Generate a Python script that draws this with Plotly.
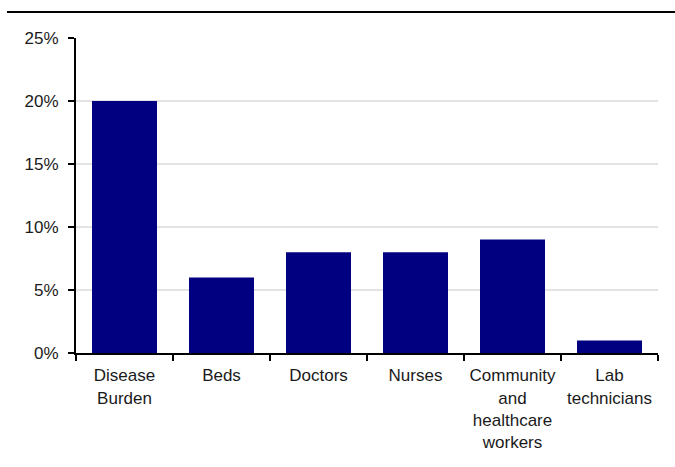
import plotly.graph_objects as go

categories = ["Disease<br>Burden", "Beds", "Doctors", "Nurses",
              "Community<br>and<br>healthcare<br>workers", "Lab<br>technicians"]
values = [0.20, 0.06, 0.08, 0.08, 0.09, 0.01]
y_ticks = [0, 0.05, 0.10, 0.15, 0.20, 0.25]
y_tick_labels = ["0%", "5%", "10%", "15%", "20%", "25%"]

fig = go.Figure(go.Bar(x=categories, y=values, marker=dict(color="#000080", line=dict(width=0))))

W, H = 675, 467
L, R, T, B = 76, 17, 38, 114
pw, ph = W - L - R, H - T - B

fig.update_layout(
    width=W, height=H,
    margin=dict(l=L, r=R, t=T, b=B, pad=0),
    plot_bgcolor="white", paper_bgcolor="white",
    bargap=0.33,
    showlegend=False,
    font=dict(family="Liberation Sans, Arial, sans-serif", size=17, color="#1a1a1a"),
    shapes=[dict(type="line", xref="paper", yref="paper",
                 x0=(7 - L) / pw, x1=(W - L) / pw,
                 y0=(H - B - 12) / ph, y1=(H - B - 12) / ph,
                 line=dict(color="black", width=2))],
)
fig.update_xaxes(showline=True, linecolor="black", linewidth=2,
                 ticks="outside", tickson="boundaries", ticklen=6, tickwidth=2, tickcolor="black",
                 showgrid=False, tickangle=0, automargin=False, ticklabelstandoff=6)
fig.update_yaxes(range=[0, 0.25], tickvals=y_ticks, ticktext=y_tick_labels,
                 showline=True, linecolor="black", linewidth=2,
                 ticks="outside", ticklen=6, tickwidth=2, tickcolor="black",
                 gridcolor="#e3e3e3", gridwidth=2, zeroline=False, automargin=False,
                 ticklabelstandoff=6)

fig.write_html("out.html")
